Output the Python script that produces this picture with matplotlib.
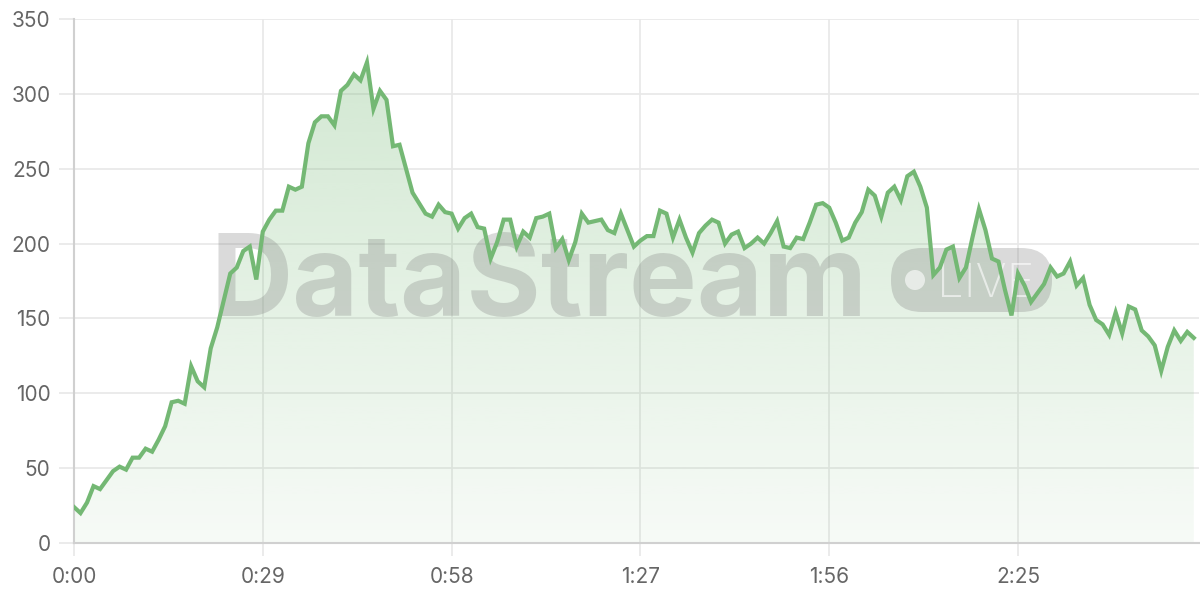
import numpy as np
import matplotlib
matplotlib.use('Agg')
import matplotlib.pyplot as plt
from matplotlib.patches import Polygon, FancyBboxPatch, Circle
from matplotlib.transforms import IdentityTransform

# values, one per second
values = [24, 20, 27, 38, 36, 42, 48, 51, 49, 57, 57, 63, 61, 69, 78, 94, 95, 93, 118, 108,
          104, 130, 144, 162, 180, 184, 195, 198, 176, 208, 216, 222, 222, 238, 236, 238, 267, 281, 285, 285,
          279, 302, 306, 313, 309, 321, 290, 302, 296, 265, 266, 250, 234, 227, 220, 218, 226, 221, 220, 210,
          217, 220, 211, 210, 190, 201, 216, 216, 198, 208, 204, 217, 218, 220, 197, 203, 189, 201, 220, 214,
          215, 216, 209, 207, 220, 209, 198, 202, 205, 205, 222, 220, 204, 216, 204, 194, 207, 212, 216, 214,
          200, 206, 208, 197, 200, 204, 200, 207, 215, 198, 197, 204, 203, 214, 226, 227, 224, 214, 202, 204,
          214, 221, 236, 232, 218, 234, 238, 229, 245, 248, 238, 224, 179, 184, 196, 198, 177, 184, 204, 223,
          209, 190, 188, 169, 152, 180, 172, 161, 167, 173, 184, 178, 180, 188, 172, 177, 159, 149, 146, 139,
          154, 140, 158, 156, 142, 138, 132, 115, 131, 142, 135, 141, 137]
seconds = np.arange(len(values))

tick_pos = [0, 29, 58, 87, 116, 145]
tick_labels = ['0:00', '0:29', '0:58', '1:27', '1:56', '2:25']
y_ticks = [0, 50, 100, 150, 200, 250, 300, 350]

green = '#74b874'
plt.rcParams['font.family'] = ['Inter', 'DejaVu Sans']

fig = plt.figure(figsize=(12, 6), dpi=100)
ax = fig.add_axes([74 / 1200, 57 / 600, 1125 / 1200, 524 / 600])

# gradient fill under the line
verts = [(seconds[0], 0)] + list(zip(seconds, values)) + [(seconds[-1], 0)]
poly = Polygon(verts, closed=True, facecolor='none', edgecolor='none')
ax.add_patch(poly)
rgba = np.zeros((256, 1, 4))
rgba[..., :3] = matplotlib.colors.to_rgb(green)
rgba[..., 3] = np.linspace(0.06, 0.32, 256)[:, None]
im = ax.imshow(rgba, extent=[seconds[0], seconds[-1], 0, max(values)], origin='lower',
               aspect='auto', zorder=1, interpolation='bilinear')
im.set_clip_path(poly)

ax.plot(seconds, values, color=green, lw=3, zorder=4, solid_joinstyle='miter')

# watermark (pixel coordinates, origin bottom-left)
px = IdentityTransform()
wm_color, wm_alpha = '#7a7a7a', 0.28
ax.text(211, 600 - 316, 'DataStream', fontsize=82, fontweight='bold', transform=px,
        ha='left', va='baseline', color=wm_color, alpha=wm_alpha, zorder=2, clip_on=False)
pill = FancyBboxPatch((891, 288), 161, 64, boxstyle='round,pad=0,rounding_size=31',
                      transform=px, facecolor=wm_color, alpha=wm_alpha, edgecolor='none',
                      zorder=2, clip_on=False)
ax.add_patch(pill)
ax.add_patch(Circle((915, 600 - 280), 10, transform=px, facecolor='white', alpha=0.6,
                    edgecolor='none', zorder=3, clip_on=False))
ax.text(937, 600 - 297, 'LIVE', fontsize=34, fontweight='light', transform=px, color='white',
        alpha=0.6, ha='left', va='baseline', zorder=3, clip_on=False)

ax.set_xlim(0, 172.8)
ax.set_ylim(0, 350)
ax.set_xticks(tick_pos)
ax.set_xticklabels(tick_labels)
ax.set_yticks(y_ticks)
ax.grid(True, color='#e8e8e8', lw=1.2, zorder=0)
ax.set_axisbelow(True)
for s in ['top', 'right']:
    ax.spines[s].set_visible(False)
for s in ['left', 'bottom']:
    ax.spines[s].set_color('#d0d0d0')
    ax.spines[s].set_linewidth(1.5)
ax.tick_params(axis='y', length=11, color='#e8e8e8', width=1.2, pad=6, labelsize=15, labelcolor='#666666')
ax.tick_params(axis='x', length=9, color='#e8e8e8', width=1.2, pad=8, labelsize=15, labelcolor='#666666')

fig.savefig('out.png', dpi=100)
